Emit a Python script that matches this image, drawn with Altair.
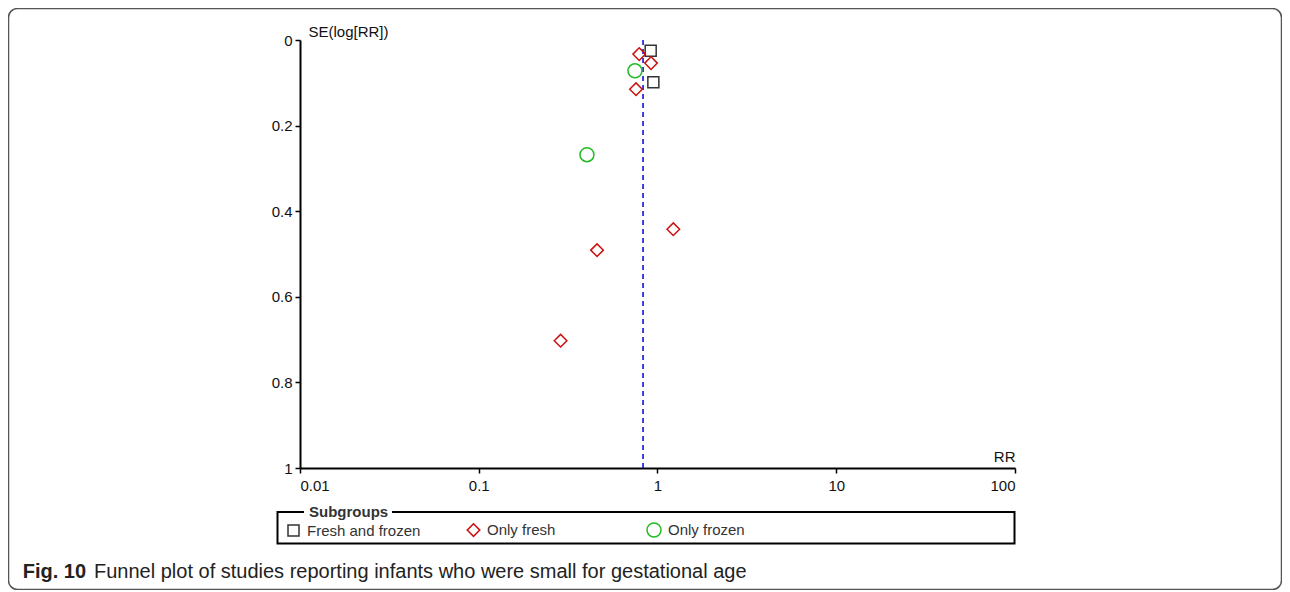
import altair as alt
import pandas as pd

# ---- data ----
groups = ["Fresh and frozen", "Fresh and frozen",
          "Only fresh", "Only fresh", "Only fresh", "Only fresh", "Only fresh", "Only fresh",
          "Only frozen", "Only frozen"]
rr = [0.916, 0.948, 0.79, 0.92, 0.758, 1.226, 0.459, 0.287, 0.748, 0.403]
se = [0.025, 0.099, 0.033, 0.054, 0.115, 0.442, 0.491, 0.7025, 0.072, 0.268]
pooled_rr = [0.83]

subgroup_names = ["Fresh and frozen", "Only fresh", "Only frozen"]
subgroup_shapes = ["square", "diamond", "circle"]
subgroup_colors = ["#333333", "#cc1111", "#22bb22"]
subgroup_sizes = [121, 196, 156]

x_ticks = [0.01, 0.1, 1, 10, 100]
y_ticks = [0, 0.2, 0.4, 0.6, 0.8, 1]

legend_title = "Subgroups"
caption_bold = "Fig. 10"
caption_rest = "Funnel plot of studies reporting infants who were small for gestational age"

FONT = "Liberation Sans, Arial, sans-serif"

df = pd.DataFrame({"RR": rr, "SE": se, "Subgroup": groups})
pooled = pd.DataFrame({"RR": pooled_rr})
one = pd.DataFrame({"k": [0]})

xscale = alt.Scale(type="log", domain=[0.01, 100], nice=False)
yscale = alt.Scale(domain=[0, 1], reverse=True, nice=False, zero=False)

points = alt.Chart(df).mark_point(filled=False, strokeWidth=1.5, opacity=1).encode(
    x=alt.X("RR:Q", scale=xscale,
            axis=alt.Axis(values=x_ticks, format="~g", title="RR",
                          titleX=715, titleY=-4, titleAlign="right",
                          titleBaseline="bottom", labelPadding=5)),
    y=alt.Y("SE:Q", scale=yscale,
            axis=alt.Axis(values=y_ticks, format="~g", title="SE(log[RR])",
                          titleAngle=0, titleX=8, titleY=-9, titleAlign="left",
                          titleBaseline="middle")),
    shape=alt.Shape("Subgroup:N",
                    scale=alt.Scale(domain=subgroup_names, range=subgroup_shapes),
                    legend=alt.Legend(title=None)),
    color=alt.Color("Subgroup:N",
                    scale=alt.Scale(domain=subgroup_names, range=subgroup_colors),
                    legend=alt.Legend(title=None)),
    size=alt.Size("Subgroup:N",
                  scale=alt.Scale(domain=subgroup_names, range=subgroup_sizes),
                  legend=None),
)

rule = alt.Chart(pooled).mark_rule(color="#0000dd", strokeDash=[5, 4],
                                   strokeWidth=1.5).encode(
    x=alt.X("RR:Q", scale=xscale)
)

frame = alt.Chart(one).mark_rect(filled=False, stroke="#555555", strokeWidth=1.5,
                                 cornerRadius=9).encode(
    x=alt.value(-291.5), x2=alt.value(981.5),
    y=alt.value(-31.5), y2=alt.value(549.5)
)

legend_box = alt.Chart(one).mark_rect(filled=False, stroke="#000000",
                                      strokeWidth=2).encode(
    x=alt.value(-22.5), x2=alt.value(714.5),
    y=alt.value(472), y2=alt.value(503.5)
)

legend_gap = alt.Chart(one).mark_rect(color="white").encode(
    x=alt.value(4), x2=alt.value(92),
    y=alt.value(465), y2=alt.value(479)
)

legend_title_txt = alt.Chart(one).mark_text(
    align="left", baseline="middle", font=FONT, fontSize=15,
    fontWeight="bold", color="#333333").encode(
    x=alt.value(9), y=alt.value(472), text=alt.value(legend_title)
)

cap1 = alt.Chart(one).mark_text(
    align="left", baseline="alphabetic", font=FONT, fontSize=20,
    fontWeight="bold", color="#222222").encode(
    x=alt.value(-277.3), y=alt.value(538), text=alt.value(caption_bold)
)

cap2 = alt.Chart(one).mark_text(
    align="left", baseline="alphabetic", font=FONT, fontSize=20,
    color="#222222").encode(
    x=alt.value(-206), y=alt.value(538), text=alt.value(caption_rest)
)

chart = alt.layer(
    frame, legend_box, legend_gap, legend_title_txt, cap1, cap2, rule, points
).properties(
    width=715, height=428,
    autosize=alt.AutoSizeParams(type="none"),
    padding={"left": 292, "top": 32, "right": 267, "bottom": 122},
    background="white",
).configure_view(stroke=None).configure_axis(
    grid=False, domainColor="#000000", domainWidth=2,
    tickColor="#000000", tickWidth=1.5, tickSize=5,
    labelFont=FONT, labelFontSize=15, labelColor="#111111", labelPadding=3,
    titleFont=FONT, titleFontSize=15, titleFontWeight="normal", titleColor="#111111",
).configure_legend(
    orient="none", legendX=-14, legendY=482, direction="horizontal",
    labelFont=FONT, labelFontSize=15, labelColor="#333333", labelOffset=6,
    symbolSize=200, symbolStrokeWidth=1.5, columnPadding=43, gridAlign="all",
    padding=0,
)

chart.save("out.html", embed_options={"renderer": "svg", "actions": False})
